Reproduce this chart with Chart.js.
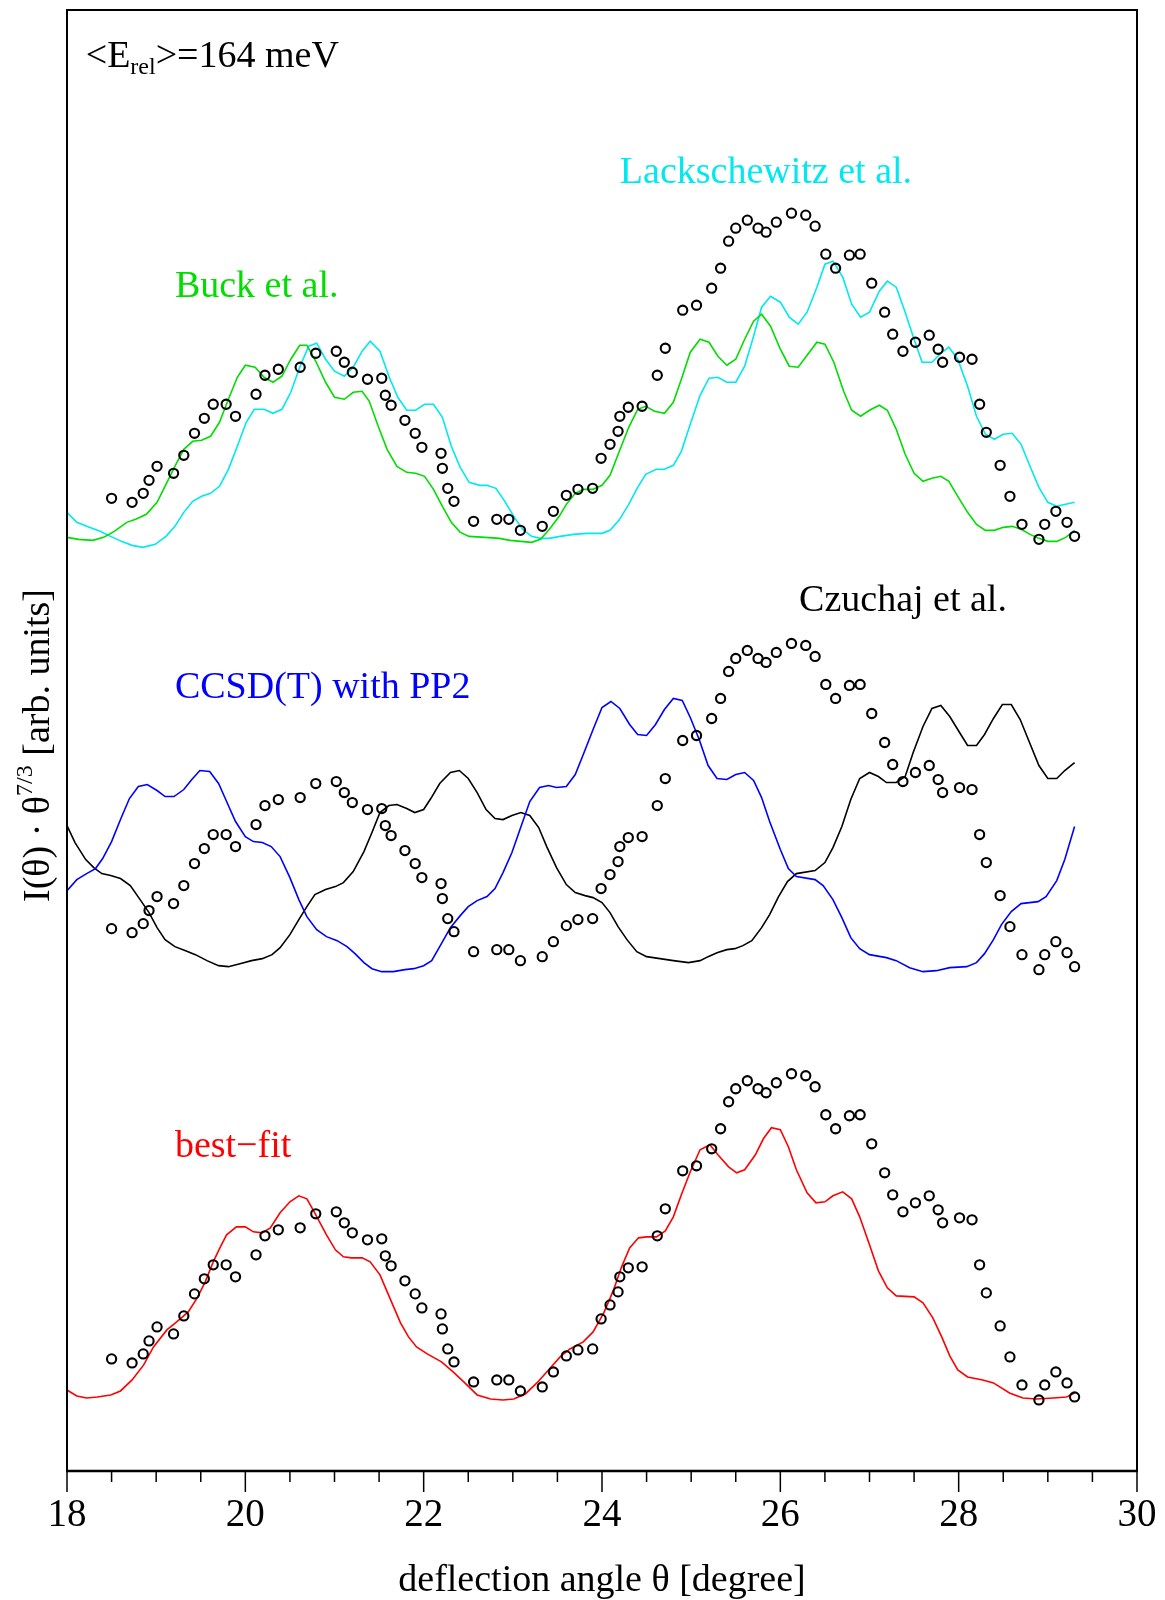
<!DOCTYPE html>
<html>
<head>
<meta charset="utf-8">
<script src="https://cdn.jsdelivr.net/npm/chart.js@4.4.1/dist/chart.umd.min.js"></script>
<style>
  html, body { margin: 0; padding: 0; background: #fff; }
</style>
</head>
<body>
<canvas id="grafico" width="1165" height="1600"></canvas>
<script>
// Datos experimentales (misma serie en los tres paneles, desplazada)
const expTheta = [18.50, 18.73, 18.855, 18.92, 19.01, 19.195, 19.31, 19.43, 19.54, 19.64, 19.785, 19.89,
  20.12, 20.22, 20.37, 20.615, 20.79, 21.02, 21.11, 21.20, 21.37, 21.53, 21.57, 21.635, 21.79, 21.905,
  21.98, 22.195, 22.21, 22.27, 22.34, 22.56, 22.82, 22.955, 23.085, 23.33, 23.455, 23.60, 23.73, 23.895,
  23.99, 24.09, 24.18, 24.20, 24.295, 24.45, 24.62, 24.71, 24.905, 25.06, 25.23, 25.33, 25.42, 25.50,
  25.63, 25.75, 25.84, 25.955, 26.125, 26.285, 26.39, 26.51, 26.62, 26.775, 26.895, 27.025, 27.17, 27.26,
  27.375, 27.515, 27.67, 27.77, 27.82, 28.01, 28.15, 28.235, 28.31, 28.465, 28.575, 28.71, 28.90, 28.965,
  29.09, 29.215, 29.30];
const expI = [1.12, 1.08, 1.17, 1.30, 1.44, 1.37, 1.55, 1.77, 1.92, 2.06, 2.06, 1.94,
  2.16, 2.35, 2.41, 2.43, 2.57, 2.59, 2.48, 2.38, 2.31, 2.32, 2.15, 2.05, 1.90, 1.77,
  1.63, 1.57, 1.42, 1.22, 1.09, 0.89, 0.91, 0.91, 0.80, 0.84, 0.99, 1.15, 1.21, 1.22,
  1.52, 1.66, 1.79, 1.94, 2.03, 2.04, 2.35, 2.62, 3.00, 3.05, 3.22, 3.42, 3.69, 3.82,
  3.90, 3.82, 3.78, 3.88, 3.97, 3.95, 3.84, 3.56, 3.42, 3.55, 3.56, 3.27, 2.98, 2.76,
  2.59, 2.68, 2.75, 2.61, 2.48, 2.53, 2.51, 2.06, 1.78, 1.45, 1.14, 0.86, 0.71, 0.86,
  0.99, 0.88, 0.74];

// Desplazamiento vertical de cada panel
const desplazamientos = [0, 4.3, 8.6];

// Panel superior: Buck et al. (verde)
const buckTheta = [18.00, 18.13, 18.29, 18.41, 18.53, 18.67, 18.77, 18.89, 19.01, 19.11, 19.21, 19.31, 19.41, 19.51,
  19.61, 19.71, 19.81, 19.91, 20.00, 20.11, 20.21, 20.31, 20.41, 20.51, 20.61, 20.69, 20.79, 20.90, 21.00, 21.11,
  21.21, 21.31, 21.39, 21.49, 21.59, 21.70, 21.81, 21.91, 22.01, 22.11, 22.21, 22.31, 22.41, 22.51, 22.69, 22.85,
  22.97, 23.09, 23.21, 23.31, 23.41, 23.52, 23.60, 23.70, 23.79, 23.90, 24.00, 24.09, 24.19, 24.30, 24.40, 24.49,
  24.59, 24.70, 24.80, 24.89, 24.99, 25.10, 25.20, 25.30, 25.40, 25.50, 25.60, 25.70, 25.79, 25.89, 26.00, 26.10,
  26.20, 26.30, 26.41, 26.50, 26.60, 26.71, 26.80, 26.90, 27.00, 27.11, 27.20, 27.30, 27.40, 27.50, 27.60, 27.70,
  27.80, 27.89, 27.99, 28.10, 28.20, 28.30, 28.40, 28.50, 28.60, 28.70, 28.80, 28.90, 29.00, 29.10, 29.20, 29.30];
const buckI = [9.33, 9.31, 9.30, 9.33, 9.39, 9.48, 9.51, 9.56, 9.68, 9.86, 10.04, 10.21, 10.29, 10.30,
  10.34, 10.48, 10.71, 10.93, 11.05, 11.03, 10.93, 10.88, 10.94, 11.11, 11.25, 11.25, 11.09, 10.88, 10.73, 10.71,
  10.78, 10.79, 10.69, 10.44, 10.21, 10.04, 9.98, 9.97, 9.94, 9.81, 9.64, 9.48, 9.38, 9.34, 9.33, 9.32,
  9.30, 9.29, 9.28, 9.31, 9.41, 9.54, 9.66, 9.77, 9.81, 9.81, 9.85, 9.95, 10.18, 10.43, 10.61, 10.64,
  10.59, 10.57, 10.68, 10.91, 11.18, 11.31, 11.28, 11.14, 11.05, 11.11, 11.31, 11.49, 11.56, 11.44, 11.21, 11.04,
  11.03, 11.15, 11.28, 11.26, 11.08, 10.79, 10.60, 10.54, 10.60, 10.65, 10.60, 10.41, 10.16, 9.97, 9.89, 9.92,
  9.94, 9.89, 9.74, 9.58, 9.46, 9.40, 9.40, 9.43, 9.44, 9.41, 9.36, 9.32, 9.29, 9.29, 9.33, 9.40];

// Panel superior: Lackschewitz et al. (cian)
const lackTheta = [18.00, 18.11, 18.25, 18.37, 18.49, 18.61, 18.73, 18.85, 18.99, 19.11, 19.21, 19.31, 19.41, 19.51,
  19.61, 19.71, 19.81, 19.91, 20.01, 20.10, 20.21, 20.31, 20.41, 20.51, 20.61, 20.71, 20.80, 20.90, 21.00, 21.11,
  21.21, 21.31, 21.40, 21.51, 21.61, 21.71, 21.81, 21.91, 22.01, 22.11, 22.21, 22.31, 22.41, 22.51, 22.63, 22.71,
  22.81, 22.91, 23.01, 23.11, 23.21, 23.31, 23.41, 23.53, 23.68, 23.83, 24.00, 24.09, 24.19, 24.30, 24.40, 24.49,
  24.61, 24.70, 24.80, 24.89, 24.99, 25.10, 25.20, 25.30, 25.40, 25.50, 25.60, 25.70, 25.79, 25.89, 26.00, 26.10,
  26.20, 26.30, 26.41, 26.50, 26.59, 26.70, 26.80, 26.90, 27.00, 27.11, 27.20, 27.30, 27.40, 27.50, 27.59, 27.70,
  27.80, 27.89, 27.99, 28.10, 28.20, 28.30, 28.40, 28.50, 28.60, 28.70, 28.80, 28.90, 29.00, 29.10, 29.20, 29.30];
const lackI = [9.58, 9.48, 9.43, 9.39, 9.34, 9.29, 9.25, 9.23, 9.26, 9.34, 9.44, 9.58, 9.69, 9.74,
  9.77, 9.84, 10.01, 10.24, 10.48, 10.61, 10.61, 10.57, 10.61, 10.78, 11.03, 11.24, 11.27, 11.11, 10.99, 10.94,
  11.03, 11.19, 11.29, 11.19, 10.94, 10.73, 10.60, 10.60, 10.66, 10.66, 10.53, 10.24, 10.03, 9.88, 9.85, 9.85,
  9.82, 9.69, 9.54, 9.41, 9.34, 9.32, 9.32, 9.34, 9.36, 9.37, 9.37, 9.40, 9.50, 9.66, 9.83, 9.96,
  10.01, 10.01, 10.05, 10.19, 10.46, 10.75, 10.92, 10.93, 10.88, 10.88, 11.04, 11.34, 11.63, 11.74, 11.68, 11.53,
  11.46, 11.58, 11.83, 12.06, 12.09, 11.93, 11.66, 11.53, 11.58, 11.79, 11.89, 11.83, 11.58, 11.31, 11.08, 11.08,
  11.17, 11.23, 11.11, 10.84, 10.54, 10.36, 10.31, 10.36, 10.37, 10.26, 10.04, 9.83, 9.68, 9.64, 9.66, 9.68];

// Panel central: CCSD(T) con PP2 (azul)
const ccsdTheta = [18.00, 18.11, 18.22, 18.32, 18.40, 18.50, 18.60, 18.70, 18.80, 18.90, 19.01, 19.10, 19.20, 19.31,
  19.40, 19.49, 19.60, 19.70, 19.79, 19.89, 20.00, 20.09, 20.19, 20.29, 20.39, 20.50, 20.60, 20.69, 20.80, 20.91,
  21.03, 21.14, 21.23, 21.33, 21.42, 21.53, 21.66, 21.79, 21.89, 22.00, 22.09, 22.18, 22.30, 22.41, 22.50, 22.60,
  22.71, 22.80, 22.89, 22.99, 23.08, 23.19, 23.30, 23.40, 23.49, 23.60, 23.70, 23.79, 23.90, 24.00, 24.10, 24.20,
  24.31, 24.40, 24.50, 24.60, 24.70, 24.80, 24.90, 24.99, 25.09, 25.19, 25.29, 25.40, 25.50, 25.60, 25.70, 25.79,
  25.88, 26.00, 26.09, 26.18, 26.39, 26.48, 26.59, 26.69, 26.79, 26.89, 27.00, 27.19, 27.30, 27.45, 27.60, 27.75,
  27.90, 28.09, 28.20, 28.29, 28.39, 28.48, 28.59, 28.70, 28.89, 28.98, 29.10, 29.19, 29.30];
const ccsdI = [5.80, 5.91, 5.97, 6.02, 6.12, 6.29, 6.51, 6.72, 6.84, 6.86, 6.80, 6.74, 6.74, 6.81,
  6.91, 7.00, 6.99, 6.87, 6.69, 6.49, 6.34, 6.29, 6.28, 6.24, 6.14, 5.93, 5.71, 5.54, 5.41, 5.34,
  5.30, 5.24, 5.17, 5.08, 5.02, 4.99, 4.99, 5.01, 5.02, 5.05, 5.10, 5.24, 5.43, 5.55, 5.64, 5.70,
  5.74, 5.82, 5.98, 6.18, 6.41, 6.69, 6.83, 6.85, 6.83, 6.84, 6.96, 7.16, 7.41, 7.63, 7.69, 7.62,
  7.46, 7.36, 7.35, 7.46, 7.61, 7.72, 7.70, 7.53, 7.31, 7.05, 6.92, 6.91, 6.96, 6.98, 6.90, 6.73,
  6.49, 6.21, 6.02, 5.94, 5.91, 5.85, 5.71, 5.53, 5.33, 5.22, 5.16, 5.13, 5.10, 5.03, 4.99, 5.00,
  5.03, 5.04, 5.08, 5.17, 5.31, 5.46, 5.59, 5.67, 5.69, 5.74, 5.90, 6.11, 6.44];

// Panel central: Czuchaj et al. (negro)
const czuTheta = [18.00, 18.09, 18.21, 18.30, 18.39, 18.49, 18.60, 18.71, 18.82, 18.92, 19.01, 19.10, 19.21, 19.33,
  19.44, 19.57, 19.70, 19.81, 19.94, 20.07, 20.19, 20.30, 20.39, 20.50, 20.60, 20.69, 20.78, 20.90, 21.01, 21.10,
  21.21, 21.33, 21.42, 21.51, 21.61, 21.70, 21.81, 21.90, 22.00, 22.08, 22.18, 22.30, 22.40, 22.50, 22.60, 22.70,
  22.80, 22.89, 22.99, 23.09, 23.19, 23.29, 23.38, 23.49, 23.60, 23.70, 23.81, 23.90, 24.00, 24.09, 24.18, 24.28,
  24.39, 24.50, 24.65, 24.80, 24.97, 25.10, 25.19, 25.29, 25.40, 25.49, 25.58, 25.68, 25.79, 25.88, 25.98, 26.08,
  26.18, 26.39, 26.50, 26.59, 26.69, 26.79, 26.89, 27.00, 27.10, 27.19, 27.30, 27.40, 27.49, 27.60, 27.70, 27.80,
  27.90, 28.01, 28.10, 28.20, 28.29, 28.39, 28.49, 28.59, 28.69, 28.79, 28.90, 29.00, 29.10, 29.19, 29.30];
const czuI = [6.45, 6.28, 6.11, 6.03, 5.97, 5.95, 5.92, 5.85, 5.71, 5.58, 5.43, 5.31, 5.24, 5.20,
  5.16, 5.10, 5.05, 5.04, 5.07, 5.10, 5.12, 5.16, 5.23, 5.36, 5.51, 5.64, 5.76, 5.81, 5.84, 5.88,
  5.99, 6.19, 6.38, 6.58, 6.65, 6.66, 6.62, 6.58, 6.61, 6.72, 6.87, 6.98, 7.00, 6.92, 6.78, 6.61,
  6.52, 6.51, 6.55, 6.58, 6.55, 6.43, 6.24, 6.03, 5.86, 5.78, 5.75, 5.73, 5.68, 5.58, 5.44, 5.31,
  5.19, 5.14, 5.12, 5.10, 5.08, 5.10, 5.14, 5.18, 5.21, 5.22, 5.25, 5.30, 5.43, 5.56, 5.74, 5.89,
  5.97, 6.00, 6.08, 6.23, 6.44, 6.71, 6.92, 6.98, 6.94, 6.88, 6.88, 6.94, 7.18, 7.44, 7.62, 7.65,
  7.54, 7.38, 7.25, 7.25, 7.36, 7.52, 7.66, 7.66, 7.51, 7.29, 7.05, 6.92, 6.92, 7.00, 7.08];

// Panel inferior: mejor ajuste (rojo)
const ajusteTheta = [18.00, 18.11, 18.22, 18.34, 18.49, 18.60, 18.73, 18.86, 18.97, 19.12, 19.23, 19.36, 19.46, 19.55,
  19.64, 19.72, 19.79, 19.90, 20.00, 20.09, 20.19, 20.28, 20.39, 20.50, 20.60, 20.69, 20.76, 20.91, 21.01, 21.10,
  21.19, 21.31, 21.40, 21.51, 21.62, 21.74, 21.83, 21.92, 22.04, 22.20, 22.33, 22.45, 22.60, 22.75, 22.89, 23.01,
  23.14, 23.27, 23.40, 23.53, 23.64, 23.79, 23.90, 24.02, 24.13, 24.22, 24.31, 24.41, 24.50, 24.61, 24.71, 24.80,
  24.89, 24.99, 25.10, 25.21, 25.30, 25.42, 25.51, 25.60, 25.72, 25.81, 25.90, 26.00, 26.09, 26.18, 26.30, 26.40,
  26.50, 26.59, 26.70, 26.80, 26.89, 27.00, 27.10, 27.20, 27.30, 27.50, 27.60, 27.71, 27.81, 27.90, 27.99, 28.10,
  28.27, 28.39, 28.57, 28.72, 28.87, 29.06, 29.21, 29.30];
const ajusteI = [0.81, 0.75, 0.73, 0.74, 0.76, 0.80, 0.91, 1.06, 1.24, 1.41, 1.49, 1.59, 1.73, 1.89,
  2.09, 2.24, 2.36, 2.44, 2.44, 2.39, 2.38, 2.43, 2.58, 2.69, 2.75, 2.72, 2.61, 2.36, 2.21, 2.14,
  2.13, 2.13, 2.09, 1.96, 1.73, 1.48, 1.34, 1.24, 1.17, 1.09, 0.99, 0.89, 0.76, 0.72, 0.71, 0.72,
  0.77, 0.88, 1.01, 1.14, 1.22, 1.29, 1.39, 1.58, 1.81, 2.04, 2.23, 2.33, 2.34, 2.34, 2.40, 2.54,
  2.76, 2.99, 3.21, 3.26, 3.16, 3.04, 2.98, 3.01, 3.16, 3.32, 3.43, 3.41, 3.24, 3.01, 2.78, 2.68,
  2.69, 2.75, 2.79, 2.72, 2.54, 2.26, 2.00, 1.83, 1.75, 1.74, 1.68, 1.53, 1.34, 1.15, 1.01, 0.94,
  0.91, 0.88, 0.78, 0.73, 0.72, 0.73, 0.74, 0.78];

// Marcas principales del eje x
const marcasTheta = [18, 20, 22, 24, 26, 28, 30];

const FUENTE = '"Liberation Serif", "Times New Roman", Times, serif';

function puntos(xs, ys, offset) {
  return xs.map((x, i) => ({ x: x, y: ys[i] + offset }));
}

function curva(xs, ys, color) {
  return {
    data: puntos(xs, ys, 0),
    showLine: true,
    borderColor: color,
    borderWidth: 1.6,
    pointRadius: 0,
    tension: 0,
    fill: false
  };
}

function circulos(offset) {
  return {
    data: puntos(expTheta, expI, offset),
    showLine: false,
    pointStyle: 'circle',
    pointRadius: 4.6,
    pointBorderWidth: 2.1,
    pointBorderColor: '#000',
    pointBackgroundColor: 'rgba(0,0,0,0)'
  };
}

// Marco, marcas del eje, rótulos y títulos de ejes
const decoracion = {
  id: 'decoracion',
  afterDraw(chart) {
    const { ctx, chartArea: a, scales: { x, y } } = chart;
    ctx.save();
    ctx.strokeStyle = '#000';
    ctx.lineWidth = 2;
    ctx.strokeRect(a.left, a.top, a.right - a.left, a.bottom - a.top);
    ctx.lineWidth = 2.6;
    ctx.beginPath();
    ctx.moveTo(a.left - 1, a.bottom);
    ctx.lineTo(a.right + 1, a.bottom);
    ctx.stroke();

    // marcas hacia afuera: mayores cada 2, menores cada 0.5
    ctx.lineWidth = 1.5;
    for (let v = x.min; v <= x.max + 1e-6; v += 0.5) {
      const px = x.getPixelForValue(v);
      const mayor = marcasTheta.includes(v);
      ctx.beginPath();
      ctx.moveTo(px, a.bottom);
      ctx.lineTo(px, a.bottom + (mayor ? 21 : 11));
      ctx.stroke();
    }

    // rótulos de cada curva
    const rotulo = (texto, tx, ty, color) => {
      ctx.fillStyle = color;
      ctx.font = '38px ' + FUENTE;
      ctx.textAlign = 'left';
      ctx.textBaseline = 'alphabetic';
      ctx.fillText(texto, x.getPixelForValue(tx), y.getPixelForValue(ty));
    };
    rotulo('Lackschewitz et al.', 24.20, 12.87, '#00e8f0');
    rotulo('Buck et al.', 19.21, 11.73, '#00dd00');
    rotulo('Czuchaj et al.', 26.21, 8.59, '#000');
    rotulo('CCSD(T) with PP2', 19.21, 7.72, '#0000ff');
    rotulo('best\u2212fit', 19.21, 3.14, '#ff0000');

    // <E_rel>=164 meV
    let cx = x.getPixelForValue(18.21);
    const by = y.getPixelForValue(14.03);
    ctx.fillStyle = '#000';
    ctx.font = '38px ' + FUENTE;
    ctx.fillText('<E', cx, by);
    cx += ctx.measureText('<E').width;
    ctx.font = '24px ' + FUENTE;
    ctx.fillText('rel', cx, by + 7);
    cx += ctx.measureText('rel').width;
    ctx.font = '38px ' + FUENTE;
    ctx.fillText('>=164 meV', cx, by);

    // título del eje x
    ctx.font = '38px ' + FUENTE;
    ctx.textAlign = 'center';
    ctx.fillText('deflection angle \u03b8 [degree]', (a.left + a.right) / 2, 1591);

    // título del eje y (rotado, con exponente 7/3)
    ctx.translate(49, y.getPixelForValue(7.25));
    ctx.rotate(-Math.PI / 2);
    const grande = '38px ' + FUENTE;
    const chico = '24px ' + FUENTE;
    const partes = [
      { t: 'I(\u03b8) \u00b7 \u03b8', f: grande, dy: 0 },
      { t: '7/3', f: chico, dy: -17 },
      { t: ' [arb. units]', f: grande, dy: 0 }
    ];
    let ancho = 0;
    partes.forEach(p => { ctx.font = p.f; ancho += ctx.measureText(p.t).width; });
    let px = -ancho / 2;
    ctx.textAlign = 'left';
    partes.forEach(p => {
      ctx.font = p.f;
      ctx.fillText(p.t, px, p.dy);
      px += ctx.measureText(p.t).width;
    });
    ctx.restore();
  }
};

const datasets = [
  circulos(desplazamientos[2]),
  circulos(desplazamientos[1]),
  circulos(desplazamientos[0]),
  curva(buckTheta, buckI, '#00dd00'),
  curva(lackTheta, lackI, '#00e8f0'),
  curva(ccsdTheta, ccsdI, '#0000ff'),
  curva(czuTheta, czuI, '#000000'),
  curva(ajusteTheta, ajusteI, '#ff0000')
];

new Chart(document.getElementById('grafico'), {
  type: 'scatter',
  data: { datasets: datasets },
  options: {
    responsive: false,
    animation: false,
    layout: { autoPadding: false, padding: { left: 67, right: 28, top: 10, bottom: 0 } },
    plugins: {
      legend: { display: false },
      tooltip: { enabled: false }
    },
    scales: {
      x: {
        type: 'linear',
        min: 18,
        max: 30,
        afterBuildTicks: scale => { scale.ticks = marcasTheta.map(v => ({ value: v })); },
        afterFit: scale => { scale.height = 129; scale.paddingLeft = 0; scale.paddingRight = 0; },
        grid: { display: false, drawTicks: false },
        border: { display: false },
        ticks: {
          color: '#000',
          padding: 21,
          maxRotation: 0,
          font: { family: FUENTE, size: 39 }
        }
      },
      y: {
        type: 'linear',
        display: false,
        min: 0,
        max: 14.6
      }
    }
  },
  plugins: [decoracion]
});
</script>
</body>
</html>
